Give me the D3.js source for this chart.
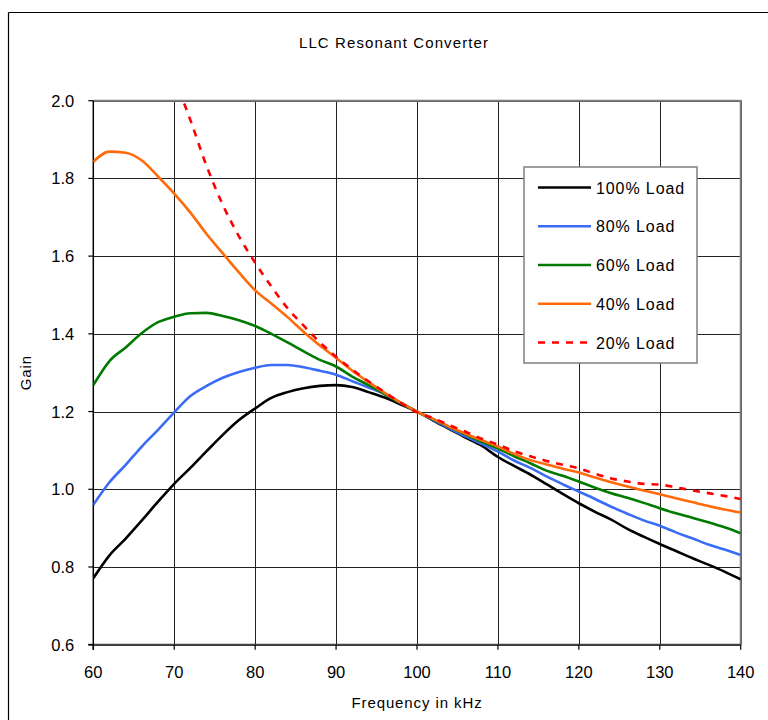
<!DOCTYPE html>
<html>
<head>
<meta charset="utf-8">
<script src="https://cdn.jsdelivr.net/npm/d3@7/dist/d3.min.js"></script>
<style>
  html, body { margin: 0; padding: 0; background: #fff; }
</style>
</head>
<body>
<div id="chart"></div>
<script>
// Frequency in kHz (2 kHz steps)
const freqs = [60, 62, 64, 66, 68, 70, 72, 74, 76, 78, 80, 82, 84, 86, 88, 90, 92, 94, 96, 98, 100,
               102, 104, 106, 108, 110, 112, 114, 116, 118, 120, 122, 124, 126, 128, 130, 132, 134, 136, 138, 140];

// Gain per load
const load100 = [0.771, 0.830, 0.873, 0.920, 0.968, 1.014, 1.055, 1.098, 1.140, 1.178, 1.208, 1.235, 1.250, 1.260, 1.266, 1.268, 1.263, 1.250, 1.236, 1.218, 1.200,
                 1.177, 1.155, 1.133, 1.112, 1.083, 1.060, 1.038, 1.013, 0.988, 0.964, 0.942, 0.922, 0.898, 0.878, 0.859, 0.841, 0.823, 0.806, 0.788, 0.768];
const load80 = [0.960, 1.018, 1.063, 1.110, 1.153, 1.198, 1.240, 1.266, 1.287, 1.302, 1.313, 1.320, 1.320, 1.314, 1.305, 1.295, 1.278, 1.262, 1.245, 1.222, 1.200,
                1.178, 1.157, 1.136, 1.117, 1.097, 1.074, 1.055, 1.033, 1.013, 0.994, 0.975, 0.955, 0.937, 0.920, 0.906, 0.889, 0.874, 0.858, 0.845, 0.831];
const load60 = [1.268, 1.330, 1.365, 1.402, 1.430, 1.444, 1.453, 1.454, 1.446, 1.435, 1.420, 1.400, 1.378, 1.355, 1.333, 1.316, 1.290, 1.268, 1.245, 1.222, 1.200,
                1.180, 1.160, 1.141, 1.122, 1.105, 1.085, 1.067, 1.048, 1.035, 1.020, 1.004, 0.990, 0.978, 0.965, 0.951, 0.938, 0.927, 0.915, 0.902, 0.887];
const load40 = [1.843, 1.869, 1.866, 1.846, 1.805, 1.761, 1.712, 1.657, 1.607, 1.558, 1.512, 1.478, 1.443, 1.405, 1.370, 1.338, 1.305, 1.276, 1.248, 1.223, 1.200,
                1.181, 1.161, 1.143, 1.126, 1.110, 1.091, 1.075, 1.064, 1.053, 1.043, 1.030, 1.018, 1.007, 0.997, 0.987, 0.977, 0.967, 0.957, 0.948, 0.940];
const load20 = [null, null, null, null, null, 2.060, 1.950, 1.832, 1.732, 1.651, 1.583, 1.522, 1.466, 1.421, 1.378, 1.341, 1.308, 1.278, 1.250, 1.222, 1.198,
                1.183, 1.165, 1.148, 1.130, 1.115, 1.098, 1.085, 1.073, 1.063, 1.054, 1.040, 1.028, 1.020, 1.014, 1.012, 1.005, 0.997, 0.990, 0.983, 0.975];

const xTicks = [60, 70, 80, 90, 100, 110, 120, 130, 140];
const yTicks = [0.6, 0.8, 1.0, 1.2, 1.4, 1.6, 1.8, 2.0];

const FONT = "'Liberation Sans', Arial, sans-serif";
const width = 768, height = 720;
const margin = { top: 100.7, right: 27.3, bottom: 75.3, left: 93.3 };
const innerWidth = width - margin.left - margin.right;
const innerHeight = height - margin.top - margin.bottom;

const svg = d3.select("#chart").append("svg")
    .attr("width", width)
    .attr("height", height)
    .attr("font-family", FONT)
    .style("display", "block");

svg.append("defs").append("clipPath").attr("id", "plot-clip")
    .append("rect")
    .attr("x", margin.left).attr("y", margin.top)
    .attr("width", innerWidth).attr("height", innerHeight);

// outer chart frame: only its top and left edges fall inside the picture
svg.append("line").attr("x1", 8.5).attr("x2", 8.5).attr("y1", 12.5).attr("y2", height)
    .attr("stroke", "#000").attr("stroke-width", 1.2);
svg.append("line").attr("x1", 8.5).attr("x2", width).attr("y1", 12.5).attr("y2", 12.5)
    .attr("stroke", "#000").attr("stroke-width", 1.2);

svg.append("text")
    .attr("x", 394)
    .attr("y", 47.5)
    .attr("text-anchor", "middle")
    .attr("font-size", 15)
    .attr("letter-spacing", 1.1)
    .text("LLC Resonant Converter");

// scales work in page coordinates
const x = d3.scaleLinear().domain([60, 140]).range([margin.left, margin.left + innerWidth]);
const y = d3.scaleLinear().domain([0.6, 2.0]).range([margin.top + innerHeight, margin.top]);
const x0 = x.range()[0], x1 = x.range()[1];
const y0 = y.range()[0], y1 = y.range()[1];

// grid
svg.append("g").selectAll("line").data(yTicks).join("line")
    .attr("x1", x0).attr("x2", x1)
    .attr("y1", d => Math.round(y(d)) + 0.5).attr("y2", d => Math.round(y(d)) + 0.5)
    .attr("stroke", "#222").attr("stroke-width", 1);
svg.append("g").selectAll("line").data(xTicks).join("line")
    .attr("y1", y1).attr("y2", y0)
    .attr("x1", d => Math.round(x(d)) + 0.5).attr("x2", d => Math.round(x(d)) + 0.5)
    .attr("stroke", "#222").attr("stroke-width", 1);

// plot border: top/right gray
svg.append("path")
    .attr("d", `M${x0},${y1}H${x1}V${y0}`)
    .attr("fill", "none")
    .attr("stroke", "#808080")
    .attr("stroke-width", 2);

// axis lines
svg.append("line")
    .attr("x1", x0 - 5).attr("x2", x1)
    .attr("y1", y0).attr("y2", y0)
    .attr("stroke", "#444").attr("stroke-width", 2);
svg.append("line")
    .attr("x1", x0).attr("x2", x0)
    .attr("y1", y1).attr("y2", y0 + 5)
    .attr("stroke", "#000").attr("stroke-width", 1.5);

// tick marks and labels
xTicks.forEach(t => {
    svg.append("line")
        .attr("x1", x(t)).attr("x2", x(t))
        .attr("y1", y0).attr("y2", y0 + 5)
        .attr("stroke", "#000").attr("stroke-width", 1.2);
    svg.append("text")
        .attr("x", x(t))
        .attr("y", y0 + 33)
        .attr("text-anchor", "middle")
        .attr("font-size", 16.5)
        .text(String(t));
});
yTicks.forEach(t => {
    svg.append("line")
        .attr("x1", x0 - 5).attr("x2", x0)
        .attr("y1", y(t)).attr("y2", y(t))
        .attr("stroke", "#000").attr("stroke-width", 1.2);
    svg.append("text")
        .attr("x", x0 - 19)
        .attr("y", y(t) + 6)
        .attr("text-anchor", "end")
        .attr("font-size", 16.5)
        .text(t.toFixed(1));
});

// axis titles
svg.append("text")
    .attr("x", (x0 + x1) / 2)
    .attr("y", 708)
    .attr("text-anchor", "middle")
    .attr("font-size", 15)
    .attr("letter-spacing", 0.9)
    .text("Frequency in kHz");

svg.append("text")
    .attr("transform", `translate(31,${(y0 + y1) / 2}) rotate(-90)`)
    .attr("text-anchor", "middle")
    .attr("font-size", 15)
    .attr("letter-spacing", 0.9)
    .text("Gain");

// series
const series = [
    { label: "100% Load", color: "#000000", data: load100, dash: null },
    { label: "80% Load", color: "#3a6cf5", data: load80, dash: null },
    { label: "60% Load", color: "#007a00", data: load60, dash: null },
    { label: "40% Load", color: "#ff6a0a", data: load40, dash: null },
    { label: "20% Load", color: "#ff0000", data: load20, dash: "7,7" }
];

const lineGen = d3.line()
    .defined(d => d != null)
    .x((d, i) => x(freqs[i]))
    .y(d => y(d))
    .curve(d3.curveMonotoneX);

const lines = svg.append("g").attr("clip-path", "url(#plot-clip)");
series.forEach(s => {
    lines.append("path")
        .datum(s.data)
        .attr("fill", "none")
        .attr("stroke", s.color)
        .attr("stroke-width", 2.6)
        .attr("stroke-dasharray", s.dash)
        .attr("d", lineGen);
});

// legend
const legend = svg.append("g").attr("transform", "translate(524,167)");
legend.append("rect")
    .attr("width", 173).attr("height", 196)
    .attr("fill", "#fff")
    .attr("stroke", "#808080")
    .attr("stroke-width", 1.5);

const rowY = d3.scalePoint().domain(series.map(s => s.label)).range([20.5, 175.5]);
series.forEach(s => {
    const yy = rowY(s.label);
    legend.append("line")
        .attr("x1", 14).attr("x2", 67)
        .attr("y1", yy).attr("y2", yy)
        .attr("stroke", s.color)
        .attr("stroke-width", 2.6)
        .attr("stroke-dasharray", s.dash);
    legend.append("text")
        .attr("x", 72)
        .attr("y", yy + 6)
        .attr("font-size", 16)
        .attr("letter-spacing", 0.9)
        .text(s.label);
});
</script>
</body>
</html>
